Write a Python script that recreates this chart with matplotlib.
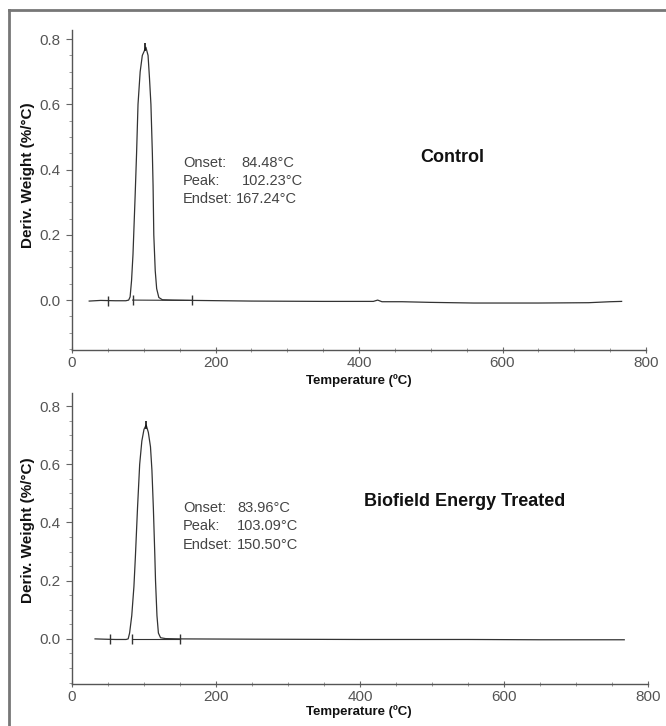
import numpy as np
import matplotlib
matplotlib.use('Agg')
import matplotlib.pyplot as plt
from matplotlib.lines import Line2D
from matplotlib.ticker import MultipleLocator

plt.rcParams['font.family'] = ['Liberation Sans', 'DejaVu Sans']

# Control DTG curve
ctrl_T = [24, 40, 60, 75, 79, 81, 83, 85, 86, 88, 90, 92, 95, 98, 101, 103, 106, 108,
          110, 112, 113, 114, 116, 118, 121, 126, 140, 170, 250, 350, 420, 426, 432,
          460, 500, 560, 650, 720, 750, 766]
ctrl_y = [-0.003, -0.001, -0.002, -0.002, 0.0, 0.01, 0.06, 0.14, 0.2, 0.32, 0.45, 0.6,
          0.70, 0.75, 0.765, 0.775, 0.75, 0.68, 0.6, 0.45, 0.35, 0.2, 0.09, 0.035,
          0.008, 0.001, 0.0, -0.001, -0.003, -0.004, -0.004, 0.0, -0.005, -0.005,
          -0.007, -0.009, -0.009, -0.008, -0.005, -0.004]

# Biofield treated DTG curve
trt_T = [32, 45, 60, 75, 78, 80, 83, 86, 88, 91, 94, 97, 100, 103, 106, 109, 111, 113,
         115, 116, 118, 120, 123, 130, 150, 250, 400, 550, 650, 767]
trt_y = [0.0, -0.001, -0.002, -0.002, 0.0, 0.02, 0.08, 0.18, 0.28, 0.45, 0.6, 0.68,
         0.72, 0.735, 0.71, 0.66, 0.58, 0.45, 0.29, 0.2, 0.08, 0.02, 0.004, 0.001, 0.0,
         -0.001, -0.002, -0.002, -0.003, -0.003]

# onset / peak / endset
ctrl_marks = [50, 84.48, 167.24]
ctrl_peak = [102.23, 0.775]
trt_marks = [53, 83.96, 150.50]
trt_peak = [103.09, 0.735]

ctrl_labels = ['Onset:', 'Peak:', 'Endset:']
ctrl_values = ['84.48°C', '102.23°C', '167.24°C']
trt_values = ['83.96°C', '103.09°C', '150.50°C']

xticks = [0, 200, 400, 600, 800]
yticks = [0.0, 0.2, 0.4, 0.6, 0.8]

fig = plt.figure(figsize=(6.66, 7.26), dpi=100)

# frame of the original figure (left and top only)
fig.add_artist(Line2D([9/666, 9/666], [0, 1-10/726], transform=fig.transFigure, color='#777', lw=2))
fig.add_artist(Line2D([9/666, 1], [1-10/726, 1-10/726], transform=fig.transFigure, color='#777', lw=2))

ax1 = fig.add_axes([72/666, 1-350/726, 574/666, 320/726])
ax2 = fig.add_axes([72/666, 1-684/726, 576/666, 291/726])

line_c = '#333333'

def style(ax, ymin, ymax):
    ax.set_xlim(0, 800)
    ax.set_ylim(ymin, ymax)
    for s in ['top', 'right']:
        ax.spines[s].set_visible(False)
    for s in ['left', 'bottom']:
        ax.spines[s].set_color('#555555')
        ax.spines[s].set_linewidth(1)
    ax.set_xticks(xticks)
    ax.set_yticks(yticks)
    ax.set_yticklabels(['%.1f' % v for v in yticks])
    ax.xaxis.set_minor_locator(MultipleLocator(50))
    ax.yaxis.set_minor_locator(MultipleLocator(0.05))
    ax.tick_params(axis='y', which='major', direction='out', length=4, color='#666',
                   labelsize=11, labelcolor='#555', pad=4)
    ax.tick_params(axis='y', which='minor', direction='out', length=2.5, color='#888')
    ax.tick_params(axis='x', which='major', direction='inout', length=4, color='#666',
                   labelsize=11, labelcolor='#555', pad=2)
    ax.tick_params(axis='x', which='minor', direction='inout', length=3, color='#888')

style(ax1, -0.153, 0.828)
style(ax2, -0.155, 0.845)

ax1.plot(ctrl_T, ctrl_y, color=line_c, lw=0.9)
ax1.plot([ctrl_marks[1], ctrl_marks[2]], [0.0, -0.001], color=line_c, lw=0.8)
ax1.plot(ctrl_marks, [-0.002, 0.0, -0.001], ls='none', marker='|', ms=7, mew=1, color=line_c)
ax1.plot([ctrl_peak[0]], [ctrl_peak[1]], ls='none', marker='|', ms=6, mew=1.2, color='#111')

ax2.plot(trt_T, trt_y, color=line_c, lw=0.9)
ax2.plot([trt_marks[1], trt_marks[2]], [0.0, 0.0], color=line_c, lw=0.8)
ax2.plot(trt_marks, [-0.002, 0.0, 0.0], ls='none', marker='|', ms=7, mew=1, color=line_c)
ax2.plot([trt_peak[0]], [trt_peak[1]], ls='none', marker='|', ms=6, mew=1.2, color='#111')

# annotations
top_vx = [235.5, 237, 228]
for i in range(3):
    ax1.text(154.7, 0.42 - i*0.055, ctrl_labels[i], fontsize=10.5, color='#444', va='center', ha='left')
    ax1.text(top_vx[i], 0.42 - i*0.055, ctrl_values[i], fontsize=10.5, color='#444', va='center', ha='left')
    ax2.text(154, 0.45 - i*0.0635, ctrl_labels[i], fontsize=10.5, color='#444', va='center', ha='left')
    ax2.text(229, 0.45 - i*0.0635, trt_values[i], fontsize=10.5, color='#444', va='center', ha='left')

fig.text(452/666, 1-157/726, 'Control', fontsize=13, fontweight='bold', color='#111', ha='center', va='center')
fig.text(465/666, 1-502/726, 'Biofield Energy Treated', fontsize=13, fontweight='bold', color='#111', ha='center', va='center')

for yc in [175, 530]:
    fig.text(28/666, 1-yc/726, 'Deriv. Weight (%/°C)', rotation=90, fontsize=11, fontweight='bold',
             color='#111', ha='center', va='center')
for yc in [381, 712]:
    fig.text(359/666, 1-yc/726, 'Temperature (ºC)', fontsize=9.5, fontweight='bold',
             color='#111', ha='center', va='center')

fig.savefig('out.png', dpi=100)
